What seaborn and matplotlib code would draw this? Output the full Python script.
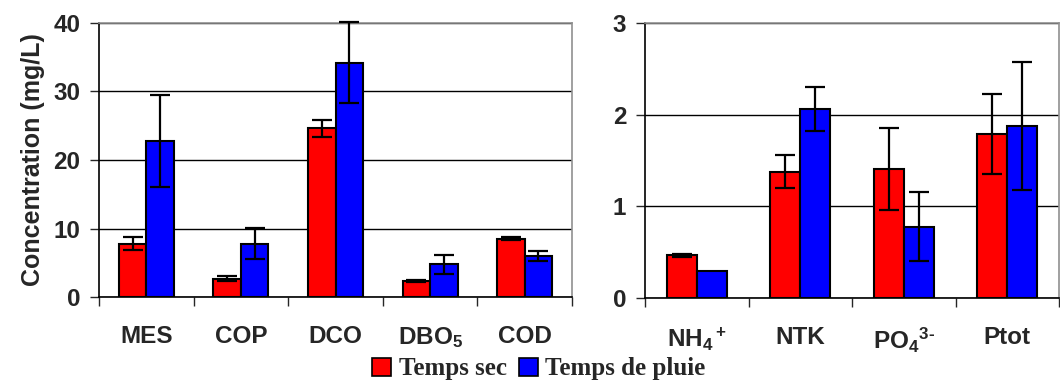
import matplotlib
matplotlib.use("Agg")
import matplotlib.pyplot as plt
from matplotlib.patches import Patch
import seaborn as sns
import pandas as pd

# values (mean and +/- half range of the error bar)
left_cats = ["MES", "COP", "DCO", "DBO$_5$", "COD"]
left_sec = [7.8, 2.7, 24.6, 2.3, 8.5]
left_sec_err = [0.9, 0.3, 1.3, 0.15, 0.25]
left_pluie = [22.8, 7.8, 34.2, 4.8, 6.0]
left_pluie_err = [6.7, 2.3, 5.9, 1.4, 0.75]

right_cats = ["NH$_4{}^+$", "NTK", "PO$_4{}^{3\\text{-}}$", "Ptot"]
right_sec = [0.465, 1.38, 1.41, 1.79]
right_sec_err = [0.015, 0.18, 0.45, 0.44]
right_pluie = [0.29, 2.06, 0.78, 1.88]
right_pluie_err = [0.0, 0.24, 0.38, 0.70]

series = ["Temps sec", "Temps de pluie"]
colors = ["#FF0000", "#0000FF"]

sns.set_style("white")
plt.rcParams["font.family"] = ["Liberation Sans", "DejaVu Sans"]
plt.rcParams["font.weight"] = "bold"
plt.rcParams["mathtext.fontset"] = "custom"
plt.rcParams["mathtext.rm"] = "Liberation Sans:bold"
plt.rcParams["mathtext.bf"] = "Liberation Sans:bold"
plt.rcParams["mathtext.it"] = "Liberation Sans:bold"
plt.rcParams["mathtext.default"] = "bf"


def make_df(cats, sec, pluie):
    return pd.DataFrame({
        "cat": cats * 2,
        "value": sec + pluie,
        "serie": [series[0]] * len(cats) + [series[1]] * len(cats),
    })


def draw_panel(ax, cats, sec, sec_err, pluie, pluie_err, ymax, ystep):
    df = make_df(cats, sec, pluie)
    sns.barplot(data=df, x="cat", y="value", hue="serie", hue_order=series,
                palette=colors, edgecolor="black", linewidth=1.5, width=0.58,
                gap=0, saturation=1, errorbar=None, legend=False, ax=ax)
    for cont, errs in zip(ax.containers, [sec_err, pluie_err]):
        for bar, e in zip(cont, errs):
            if e <= 0:
                continue
            ax.errorbar(bar.get_x() + bar.get_width() / 2, bar.get_height(), yerr=e,
                        fmt="none", ecolor="black", elinewidth=1.6, capsize=7,
                        capthick=1.6, zorder=5, clip_on=False)
    n = len(cats)
    ax.set_xlim(-0.5, n - 0.5)
    ax.set_ylim(0, ymax)
    ax.set_yticks([ystep * i for i in range(int(round(ymax / ystep)) + 1)])
    ax.tick_params(axis="y", labelsize=17.5, length=6.5, width=1, pad=7, left=True,
                   direction="out")
    # category boundaries as ticks, labels centered between them
    ax.set_xticks([i - 0.5 for i in range(n + 1)])
    ax.set_xticklabels([])
    ax.set_xticks(list(range(n)), minor=True)
    ax.set_xticklabels(cats, minor=True, fontsize=17.5, fontweight="bold")
    ax.tick_params(axis="x", which="major", length=6.5, width=1, bottom=True,
                   direction="out")
    ax.tick_params(axis="x", which="minor", length=0, pad=20)
    ax.set_xlabel("")
    ax.set_ylabel("")
    ax.yaxis.grid(True, color="black", linewidth=1)
    ax.set_axisbelow(True)
    for side in ["left", "bottom"]:
        ax.spines[side].set_color("black")
        ax.spines[side].set_linewidth(1.2)
    for side in ["top", "right"]:
        ax.spines[side].set_color("#909090")
        ax.spines[side].set_linewidth(1.2)


fig = plt.figure(figsize=(10.6, 3.92), dpi=100)
ax1 = fig.add_axes([99 / 1060, 95 / 392, 473 / 1060, 274 / 392])
ax2 = fig.add_axes([645 / 1060, 94 / 392, 414 / 1060, 275 / 392])

draw_panel(ax1, left_cats, left_sec, left_sec_err, left_pluie, left_pluie_err, 40, 10)
draw_panel(ax2, right_cats, right_sec, right_sec_err, right_pluie, right_pluie_err, 3, 1)

ax1.set_ylabel("Concentration (mg/L)", fontsize=18, fontweight="bold", labelpad=6)

handles = [Patch(facecolor=c, edgecolor="black", linewidth=1.2) for c in colors]
fig.legend(handles, series, loc="center", bbox_to_anchor=(539 / 1060, 1 - 369 / 392),
           ncol=2, frameon=False, handlelength=0.75, handleheight=0.75,
           handletextpad=0.3, columnspacing=0.5, borderpad=0.1,
           prop={"family": "Liberation Serif", "weight": "bold", "size": 18})

fig.savefig("out.png", dpi=100)
